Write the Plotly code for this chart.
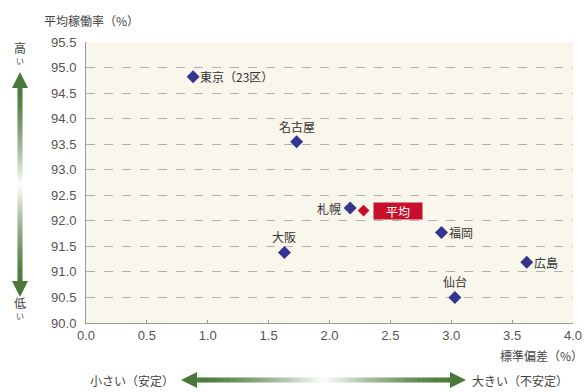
import plotly.graph_objects as go

# ---- data ----
cities = ["東京（23区）", "名古屋", "札幌", "福岡", "大阪", "広島", "仙台"]
std_dev = [0.88, 1.73, 2.17, 2.92, 1.63, 3.62, 3.03]
avg_rate = [94.82, 93.55, 92.25, 91.77, 91.38, 91.19, 90.50]
label_pos = ["right", "top", "left", "right", "top", "right", "top"]
mean_name = "平均"
mean_x = [2.28]
mean_y = [92.2]
x_ticks = [0.0, 0.5, 1.0, 1.5, 2.0, 2.5, 3.0, 3.5, 4.0]
y_ticks = [90.0, 90.5, 91.0, 91.5, 92.0, 92.5, 93.0, 93.5, 94.0, 94.5, 95.0, 95.5]

W, H = 588, 392
L, R, T, B = 86, 573, 42, 323
JP = "Noto Sans CJK JP"
TXT = "#444444"
GREEN = (74, 120, 58)

def px(x):
    return (x - L) / (R - L)

def py(y):
    return (B - y) / (B - T)

fig = go.Figure()

fig.add_trace(go.Scatter(
    x=std_dev, y=avg_rate, mode="markers",
    marker=dict(symbol="diamond", size=10, color="#34348f"),
    hoverinfo="skip", showlegend=False))
fig.add_trace(go.Scatter(
    x=mean_x, y=mean_y, mode="markers",
    marker=dict(symbol="diamond", size=9, color="#c8102e"),
    hoverinfo="skip", showlegend=False))

annotations = []
for name, xv, yv, pos in zip(cities, std_dev, avg_rate, label_pos):
    a = dict(x=xv, y=yv, xref="x", yref="y", text=name, showarrow=False,
             font=dict(family=JP, size=12, color="#333333"))
    if pos == "right":
        a.update(xanchor="left", yanchor="middle", xshift=5)
    elif pos == "left":
        a.update(xanchor="right", yanchor="middle", xshift=-7)
    else:
        a.update(xanchor="center", yanchor="bottom", yshift=5)
    annotations.append(a)

annotations.append(dict(x=mean_x[0], y=mean_y[0], xref="x", yref="y",
                        text=mean_name, showarrow=False, xanchor="left", yanchor="middle",
                        xshift=9, bgcolor="#c8102e", borderpad=1,
                        font=dict(family=JP, size=12, color="white"),
                        width=46, height=14))

# axis titles and side texts
annotations += [
    dict(x=px(42), y=py(20), xref="paper", yref="paper", text="平均稼働率（%）",
         showarrow=False, xanchor="left", yanchor="middle",
         font=dict(family=JP, size=12, color=TXT)),
    dict(x=px(585), y=py(355), xref="paper", yref="paper", text="標準偏差（%）",
         showarrow=False, xanchor="right", yanchor="middle",
         font=dict(family=JP, size=12, color=TXT)),
    dict(x=px(20), y=py(47), xref="paper", yref="paper", text="高",
         showarrow=False, xanchor="center", yanchor="middle",
         font=dict(family=JP, size=12, color=TXT)),
    dict(x=px(20), y=py(60), xref="paper", yref="paper", text="い",
         showarrow=False, xanchor="center", yanchor="middle",
         font=dict(family=JP, size=8, color=TXT)),
    dict(x=px(20), y=py(302), xref="paper", yref="paper", text="低",
         showarrow=False, xanchor="center", yanchor="middle",
         font=dict(family=JP, size=12, color=TXT)),
    dict(x=px(20), y=py(315), xref="paper", yref="paper", text="い",
         showarrow=False, xanchor="center", yanchor="middle",
         font=dict(family=JP, size=8, color=TXT)),
    dict(x=px(176), y=py(380), xref="paper", yref="paper", text="小さい（安定）",
         showarrow=False, xanchor="right", yanchor="middle",
         font=dict(family=JP, size=12, color=TXT)),
    dict(x=px(470), y=py(380), xref="paper", yref="paper", text="大きい（不安定）",
         showarrow=False, xanchor="left", yanchor="middle",
         font=dict(family=JP, size=12, color=TXT)),
]

def mix(t):
    # t=0 -> green, t=1 -> white
    r = int(GREEN[0] + (255 - GREEN[0]) * t)
    g = int(GREEN[1] + (255 - GREEN[1]) * t)
    b = int(GREEN[2] + (255 - GREEN[2]) * t)
    return f"rgb({r},{g},{b})"

shapes = []
# vertical gradient shaft
y0, y1, cx, hw = 86, 284, 20, 2.5
N = 60
for i in range(N):
    a = y0 + (y1 - y0) * i / N
    b = y0 + (y1 - y0) * (i + 1) / N
    mid = (a + b) / 2
    t = 1 - abs(mid - (y0 + y1) / 2) / ((y1 - y0) / 2)
    shapes.append(dict(type="rect", xref="paper", yref="paper",
                       x0=px(cx - hw), x1=px(cx + hw), y0=py(a), y1=py(b + 0.5),
                       line=dict(width=0), fillcolor=mix(t ** 1.5)))
# arrow heads vertical
G = mix(0)
shapes.append(dict(type="path", xref="paper", yref="paper",
                   path=f"M {px(cx)} {py(72)} L {px(cx-8)} {py(88)} L {px(cx+8)} {py(88)} Z",
                   line=dict(width=0), fillcolor=G))
shapes.append(dict(type="path", xref="paper", yref="paper",
                   path=f"M {px(cx)} {py(297)} L {px(cx-8)} {py(281)} L {px(cx+8)} {py(281)} Z",
                   line=dict(width=0), fillcolor=G))
# horizontal gradient shaft
x0, x1, cy, hh = 194, 453, 380, 2.5
for i in range(N):
    a = x0 + (x1 - x0) * i / N
    b = x0 + (x1 - x0) * (i + 1) / N
    mid = (a + b) / 2
    t = 1 - abs(mid - (x0 + x1) / 2) / ((x1 - x0) / 2)
    shapes.append(dict(type="rect", xref="paper", yref="paper",
                       x0=px(a), x1=px(b + 0.5), y0=py(cy - hh), y1=py(cy + hh),
                       line=dict(width=0), fillcolor=mix(t ** 1.5)))
shapes.append(dict(type="path", xref="paper", yref="paper",
                   path=f"M {px(181)} {py(cy)} L {px(197)} {py(cy-8)} L {px(197)} {py(cy+8)} Z",
                   line=dict(width=0), fillcolor=G))
shapes.append(dict(type="path", xref="paper", yref="paper",
                   path=f"M {px(466)} {py(cy)} L {px(450)} {py(cy-8)} L {px(450)} {py(cy+8)} Z",
                   line=dict(width=0), fillcolor=G))

fig.update_layout(
    width=W, height=H,
    margin=dict(l=L, r=W - R, t=T, b=H - B, autoexpand=False),
    paper_bgcolor="white",
    plot_bgcolor="#f9f6ec",
    font=dict(family="Liberation Sans, DejaVu Sans", size=13, color="#555555"),
    annotations=annotations,
    shapes=shapes,
    xaxis=dict(range=[0, 4], tickvals=x_ticks,
               ticktext=[f"{v:.1f}" for v in x_ticks], automargin=False,
               showgrid=False, zeroline=False, showline=True, linecolor="#999999",
               linewidth=1, ticks="inside", ticklen=3, tickcolor="#999999",
               tickfont=dict(size=13, color="#555555"), fixedrange=True),
    yaxis=dict(range=[90, 95.5], tickvals=y_ticks,
               ticktext=[f"{v:.1f}" for v in y_ticks], automargin=False,
               showgrid=True, gridcolor="#b0b0b0", griddash="dash", gridwidth=1,
               zeroline=False, showline=True, linecolor="#999999", linewidth=1,
               ticks="", ticklabelstandoff=6,
               tickfont=dict(size=13, color="#555555"), fixedrange=True),
)

fig.write_html("out.html")
